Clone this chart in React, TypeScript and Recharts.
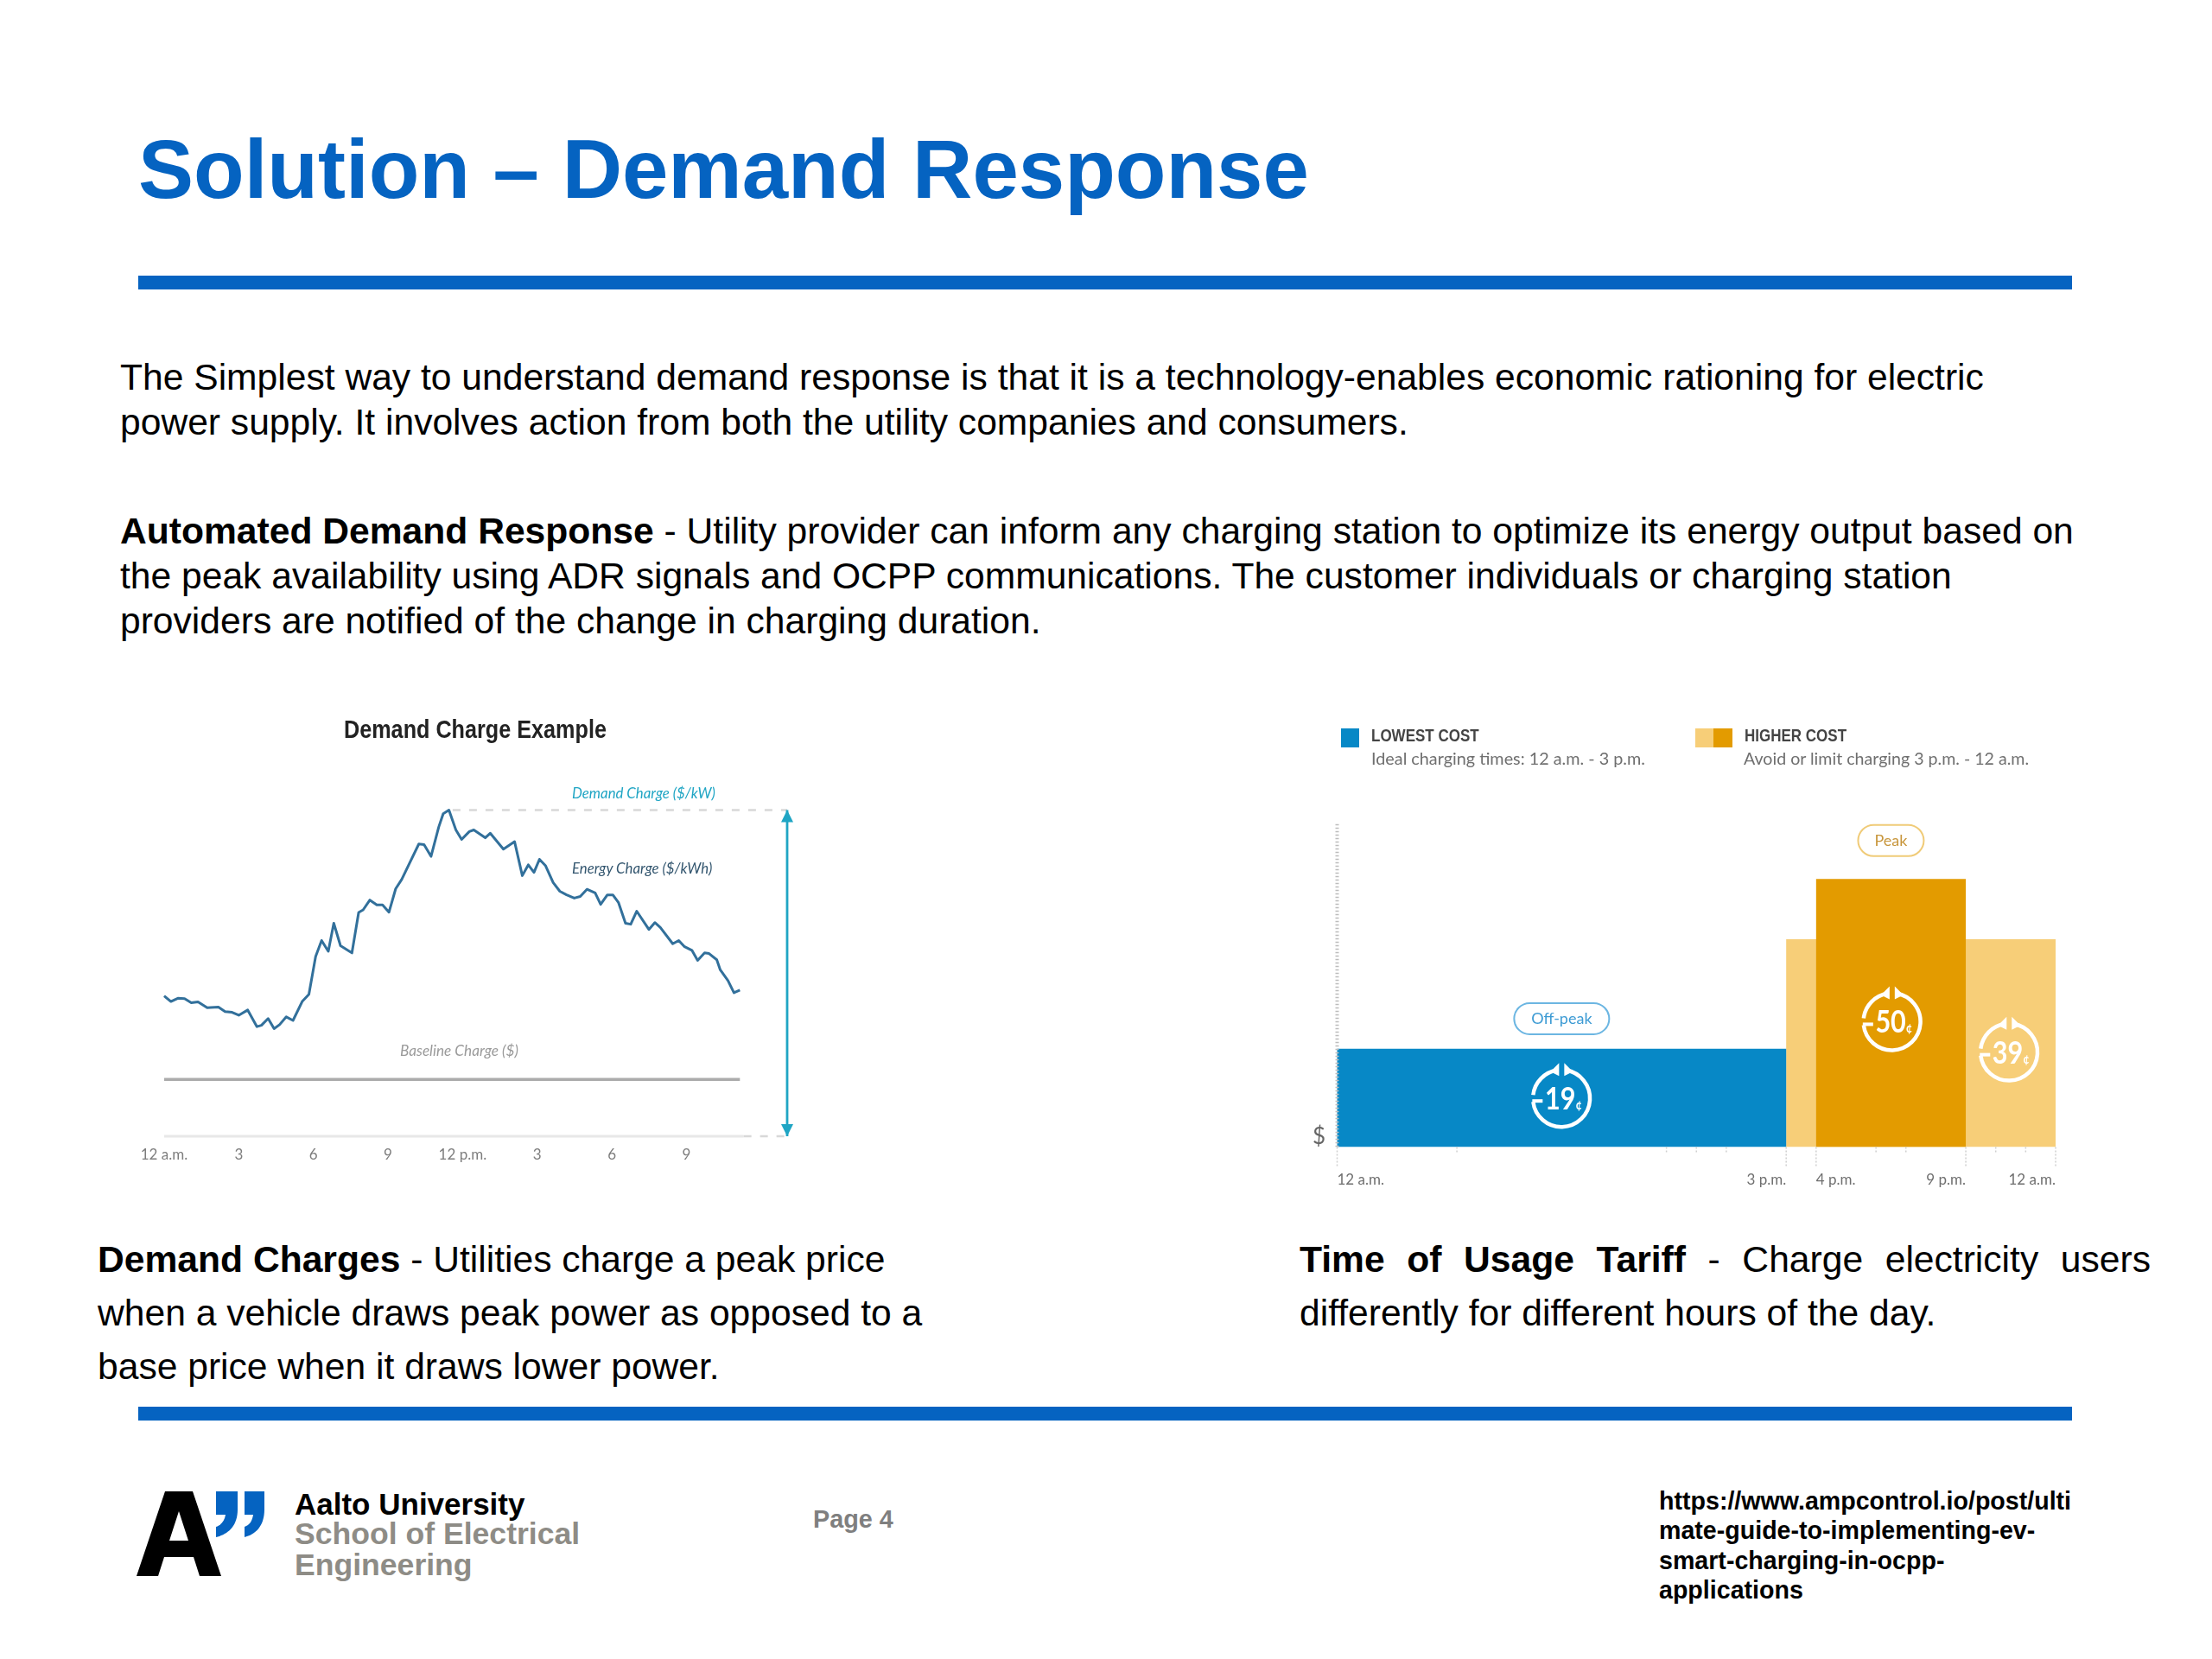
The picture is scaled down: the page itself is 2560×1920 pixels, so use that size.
import React from "react";
import { ComposedChart, Line, Area, XAxis, YAxis, ReferenceDot } from "recharts";

const title = "Solution – Demand Response";
const introLines = [
  "The Simplest way to understand demand response is that it is a technology-enables economic rationing for electric",
  "power supply. It involves action from both the utility companies and consumers.",
];
const adrLead = "Automated Demand Response";
const adrLines = [
  " - Utility provider can inform any charging station to optimize its energy output based on",
  "the peak availability using ADR signals and OCPP communications. The customer individuals or charging station",
  "providers are notified of the change in charging duration.",
];
const urlLines = ["https://www.ampcontrol.io/post/ulti", "mate-guide-to-implementing-ev-", "smart-charging-in-ocpp-", "applications"];

// Demand charge chart (hour of day, relative charge)
const energyHours = [0,0.27,0.55,0.82,1.09,1.36,1.73,2.18,2.45,2.73,3,3.36,3.73,3.91,4.18,4.42,4.64,4.91,5.18,5.55,5.82,6.09,6.33,6.6,6.82,7.09,7.55,7.82,8,8.27,8.55,8.78,9.04,9.31,9.55,9.91,10.24,10.45,10.73,11.04,11.22,11.45,11.73,11.96,12.27,12.45,12.91,13.11,13.64,14.09,14.4,14.64,14.87,15.09,15.33,15.64,15.91,16.18,16.49,16.73,17,17.33,17.55,17.82,18.04,18.27,18.55,18.76,19,19.49,19.73,19.95,20.45,20.69,20.91,21.22,21.45,21.73,21.91,22.22,22.36,22.67,22.91,23.15];
const energyValues = [43,41.3,42.3,42.2,40.9,41.2,39.4,39.6,38.2,38,37.1,38.7,33.6,34,36.1,33,34.2,36.6,35.5,41.3,43.5,55.1,60,56.7,65.3,58.4,56.2,68.6,69.4,72.4,70.9,70.9,68.7,75.9,78.7,84.4,89.6,89.4,85.8,94.8,98.9,100,93.9,91,93.4,93.9,91.5,92.9,88,90.3,79.9,83.2,80.9,84.9,83,77.8,75.1,74,73,73.5,75.7,74.6,71.1,74,74,71.6,65.3,65,69,63.4,65.5,64,59,60,58.2,57,53.9,56.2,56,54.1,51,47.7,44,44.8];
const energyData = energyHours.map((hour, i) => ({ hour, value: energyValues[i] }));
const baselineData = [{ hour: 0, value: 17.4 }, { hour: 23.15, value: 17.4 }];
const zeroLineData = [{ hour: 0, value: 0 }, { hour: 23.3, value: 0 }];
const zeroDashData = [{ hour: 23.3, value: 0 }, { hour: 25.05, value: 0 }];
const peakDashData = [{ hour: 11.6, value: 100 }, { hour: 25.05, value: 100 }];
const arrowData = [{ hour: 25.05, value: 0 }, { hour: 25.05, value: 100 }];
const demandTicks = [0, 3, 6, 9, 12, 15, 18, 21];
const demandTickLabels = ["12 a.m.", "3", "6", "9", "12 p.m.", "3", "6", "9"];

// Time of use chart (hour of day, cents)
const lowData = [{ hour: 0, cost: 19 }, { hour: 15, cost: 19 }];
const highData = [{ hour: 15, cost: 39 }, { hour: 24, cost: 39 }];
const peakData = [{ hour: 16, cost: 50 }, { hour: 21, cost: 50 }];
const touMajorTicks: Record<number, [string, string]> = {
  0: ["12 a.m.", "start"], 15: ["3 p.m.", "end"], 16: ["4 p.m.", "start"], 21: ["9 p.m.", "end"], 24: ["12 a.m.", "end"],
};
const touTicks = [0, 4, 11, 12, 13, 15, 16, 18, 19, 21, 22, 23, 24];
const costTicks = [10, 20, 30, 40, 50, 60];

const BLUE = "#0563c1";
const SANS = "'Liberation Sans', Arial, sans-serif";
const CHART = "Lato, sans-serif";
const WHITE = "#ffffff";

function T({ x, y, size, weight = 400, color = "#000", font = SANS, sx = 1, style, children }: any) {
  return (
    <div style={{ position: "absolute", left: x, top: y, transform: `translateY(-50%) scaleX(${sx})`, transformOrigin: "left center", fontSize: size, fontWeight: weight, color, fontFamily: font, whiteSpace: "pre", lineHeight: 1, ...style }}>
      {children}
    </div>
  );
}

const Triangle = (props: any) => {
  const { cx, cy, index } = props;
  const d = index === 0 ? `M${cx - 7},${cy - 14} L${cx + 7},${cy - 14} L${cx},${cy} Z` : `M${cx - 7},${cy + 14} L${cx + 7},${cy + 14} L${cx},${cy} Z`;
  return <path key={index} d={d} fill="#1fa5c4" />;
};

const NoDot = false;

function DemandChart() {
  return (
    <div style={{ position: "absolute", left: 150, top: 900, filter: "blur(0.7px)" }}>
      <ComposedChart width={800} height={460} margin={{ left: 40, right: 39, top: 37.5, bottom: 0 }} data={energyData}>
        <XAxis dataKey="hour" type="number" domain={[0, 25.05]} ticks={demandTicks} interval={0} height={45} axisLine={false} tickLine={false}
          tickMargin={9} tickFormatter={(v: number) => demandTickLabels[demandTicks.indexOf(v)]}
          tick={{ fontSize: 17, fill: "#7d7d7d", fontFamily: CHART }} allowDuplicatedCategory={false} />
        <YAxis hide domain={[0, 100]} />
        <Line data={zeroLineData} dataKey="value" stroke="#e8e8e8" strokeWidth={3} dot={NoDot} isAnimationActive={false} />
        <Line data={zeroDashData} dataKey="value" stroke="#d8d8d8" strokeWidth={2.5} strokeDasharray="9 10" dot={NoDot} isAnimationActive={false} />
        <Line data={peakDashData} dataKey="value" stroke="#d8d8d8" strokeWidth={2.5} strokeDasharray="9 10" dot={NoDot} isAnimationActive={false} />
        <Line data={baselineData} dataKey="value" stroke="#ababab" strokeWidth={3.5} dot={NoDot} isAnimationActive={false} />
        <Line data={energyData} dataKey="value" stroke="#32709b" strokeWidth={3} strokeLinejoin="round" dot={NoDot} isAnimationActive={false} />
        <Line data={arrowData} dataKey="value" stroke="#1fa5c4" strokeWidth={2.8} dot={<Triangle />} isAnimationActive={false} />
      </ComposedChart>
      <T x={398 - 150} y={844 - 900} size={30} sx={0.84} weight={700} color="#222">Demand Charge Example</T>
      <T x={662 - 150} y={918 - 900} size={16.8} color="#1fa5c4" font={CHART} style={{ fontStyle: "italic" }}>Demand Charge ($/kW)</T>
      <T x={662 - 150} y={1005 - 900} size={16.8} color="#33566f" font={CHART} style={{ fontStyle: "italic" }}>Energy Charge ($/kWh)</T>
      <T x={463 - 150} y={1216 - 900} size={17.2} color="#9a9a9a" font={CHART} style={{ fontStyle: "italic" }}>Baseline Charge ($)</T>
    </div>
  );
}

const CostIcon = ({ cx, cy, label }: any) => {
  const r = 33;
  return (
    <g>
      <path d={`M${cx - r},${cy + 4} A${r},${r} 0 1 0 ${cx + 5},${cy - r + 0.4} M${cx - 5},${cy - r + 0.4} A${r},${r} 0 0 0 ${cx - r},${cy - 4}`} fill="none" stroke={WHITE} strokeWidth={4.5} />
      <path d={`M${cx + 3},${cy - r - 8} L${cx + 13},${cy - r + 2} L${cx + 3},${cy - r + 7} Z M${cx - 3},${cy - r - 8} L${cx - 13},${cy - r + 2} L${cx - 3},${cy - r + 7} Z`} fill={WHITE} />
      <line x1={cx - r - 1} y1={cy + 3} x2={cx - r + 11} y2={cy + 3} stroke={WHITE} strokeWidth={4} />
      <text x={cx + 2} y={cy + 13} textAnchor="middle" fontSize={36} fontFamily={CHART} fontWeight={700} fill={WHITE} transform={`translate(${(cx + 2) * 0.15} 0) scale(0.85 1)`}>
        {label}<tspan fontSize={15}>¢</tspan>
      </text>
    </g>
  );
};

const Pill = ({ cx, cy, w, label, edge, color }: any) => (
  <g>
    <rect x={cx - w / 2} y={cy - 18} width={w} height={36} rx={18} fill="#fff" stroke={edge} strokeWidth={2} />
    <text x={cx} y={cy + 6} textAnchor="middle" fontSize={18} fontFamily={CHART} fill={color}>{label}</text>
  </g>
);

const TouTick = ({ x, y, payload }: any) => {
  const major = touMajorTicks[payload.value];
  return (
    <g>
      <line x1={x} y1={y} x2={x} y2={y + (major ? 24 : 8)} stroke="#cfcfcf" strokeWidth={1.5} strokeDasharray="2 2" />
      {major ? (
        <text x={x} y={y + 44} textAnchor={major[1]} fontSize={17} fontFamily={CHART} fill="#6f6f6f">{major[0]}</text>
      ) : null}
    </g>
  );
};

function TouChart() {
  return (
    <div style={{ position: "absolute", left: 1500, top: 920, filter: "blur(0.7px)" }}>
      <ComposedChart width={920} height={470} margin={{ left: 46.5, right: 41, top: 33.7, bottom: 0 }}>
        <XAxis dataKey="hour" type="number" domain={[0, 24]} ticks={touTicks} interval={0} height={62.6} axisLine={false} tickLine={false} tickSize={0} tickMargin={0} tick={<TouTick />} allowDuplicatedCategory={false} />
        <YAxis width={1} type="number" domain={[1.1, 60]} ticks={costTicks} tick={false} tickSize={6} tickLine={{ stroke: "#c4c4c4" }} axisLine={{ stroke: "#bdbdbd", strokeWidth: 4, strokeDasharray: "1.5 2.5" }} allowDataOverflow />
        <Area data={highData} dataKey="cost" type="stepAfter" fill="#f7ce78" fillOpacity={1} stroke="none" isAnimationActive={false} />
        <Area data={lowData} dataKey="cost" type="stepAfter" fill="#0788c6" fillOpacity={1} stroke="none" isAnimationActive={false} />
        <Area data={peakData} dataKey="cost" type="stepAfter" fill="#e39b00" fillOpacity={1} stroke="none" isAnimationActive={false} />
        <ReferenceDot x={7.5} y={9.96} r={0} shape={(p: any) => <CostIcon {...p} label="19" />} />
        <ReferenceDot x={18.54} y={23.95} r={0} shape={(p: any) => <CostIcon {...p} label="50" />} />
        <ReferenceDot x={22.45} y={18.4} r={0} shape={(p: any) => <CostIcon {...p} label="39" />} />
        <ReferenceDot x={7.5} y={24.5} r={0} shape={(p: any) => <Pill {...p} w={110} label="Off-peak" edge="#6cb6e2" color="#3d9bd4" />} />
        <ReferenceDot x={18.5} y={57} r={0} shape={(p: any) => <Pill {...p} w={76} label="Peak" edge="#f0cb78" color="#c8963c" />} />
      </ComposedChart>
      <div style={{ position: "absolute", left: 52, top: -77, width: 21, height: 22, background: "#0788c6" }} />
      <div style={{ position: "absolute", left: 462, top: -77, width: 21, height: 22, background: "#f7ce78" }} />
      <div style={{ position: "absolute", left: 483, top: -77, width: 22, height: 22, background: "#e39b00" }} />
      <T x={87} y={-69} size={20} sx={0.85} weight={700} color="#444">LOWEST COST</T>
      <T x={519} y={-69} size={20} sx={0.85} weight={700} color="#444">HIGHER COST</T>
      <T x={87} y={-43} size={20} sx={0.99} color="#6f6f6f" font={CHART}>Ideal charging times: 12 a.m. - 3 p.m.</T>
      <T x={518} y={-43} size={20} sx={0.98} color="#6f6f6f" font={CHART}>Avoid or limit charging 3 p.m. - 12 a.m.</T>
      <T x={19} y={394} size={26} color="#666" font={CHART}>$</T>
    </div>
  );
}

function Logo() {
  return (
    <svg style={{ position: "absolute", left: 150, top: 1715 }} width={170} height={120}>
      <path fill="#000" fillRule="evenodd" d="M8,109 L41,11 L73,11 L106,109 L81,109 L74,87 L40,87 L33,109 Z M46,68 L68,68 L57,34 Z" />
      <path fill={BLUE} d="M100,11 H125 V32 C125,52 113,61 100,64 V52 C106,50 110,45 111,38 H100 Z M133,11 H156 V32 C156,52 145,61 133,64 V52 C139,50 142,45 143,38 H133 Z" />
    </svg>
  );
}

const BODY = 42.6;

export default function App() {
  return (
    <div style={{ position: "absolute", left: 0, top: 0, width: 2560, height: 1920, background: "#fff", overflow: "hidden" }}>
      <T x={160} y={196} size={96} weight={700} color={BLUE}>{title}</T>
      <div style={{ position: "absolute", left: 160, top: 319, width: 2238, height: 16, background: BLUE }} />
      <T x={139} y={435.5} size={BODY}>{introLines[0]}</T>
      <T x={139} y={487.5} size={BODY}>{introLines[1]}</T>
      <T x={139} y={613.5} size={BODY}><b>{adrLead}</b>{adrLines[0]}</T>
      <T x={139} y={665.5} size={BODY}>{adrLines[1]}</T>
      <T x={139} y={717.5} size={BODY}>{adrLines[2]}</T>
      <DemandChart />
      <TouChart />
      <T x={113} y={1456.5} size={BODY}><b>Demand Charges</b> - Utilities charge a peak price</T>
      <T x={113} y={1518.5} size={BODY}>when a vehicle draws peak power as opposed to a</T>
      <T x={113} y={1580.5} size={BODY}>base price when it draws lower power.</T>
      <T x={1504} y={1456.5} size={BODY} style={{ width: 985, whiteSpace: "normal", textAlign: "justify", textAlignLast: "justify" }}><b>Time of Usage Tariff</b> - Charge electricity users</T>
      <T x={1504} y={1518.5} size={BODY}>differently for different hours of the day.</T>
      <div style={{ position: "absolute", left: 160, top: 1628, width: 2238, height: 16, background: BLUE }} />
      <Logo />
      <T x={341} y={1740} size={35} weight={700} color="#000">Aalto University</T>
      <T x={341} y={1776} size={35.6} weight={700} color="#8e8c86">School of Electrical</T>
      <T x={341} y={1812} size={35.6} weight={700} color="#8e8c86">Engineering</T>
      <T x={941} y={1758} size={28.8} weight={700} color="#7f7f7f">Page 4</T>
      {urlLines.map((line, i) => (
        <T key={i} x={1920} y={[1737, 1771, 1806, 1840][i]} size={28.6} weight={700} color="#000">{line}</T>
      ))}
    </div>
  );
}
